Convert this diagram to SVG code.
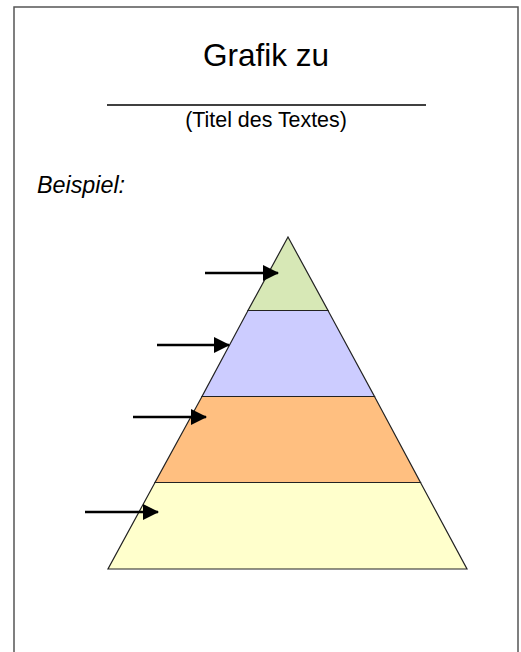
<svg xmlns="http://www.w3.org/2000/svg" width="521" height="652" viewBox="0 0 521 652">
<style>
.t{font-family:"Liberation Sans",Arial,sans-serif;fill:#000}
.lay{stroke:#222;stroke-width:1.2;stroke-linejoin:miter}
.arr{stroke:#000;stroke-width:2.6;fill:none}
</style>
<defs>
<marker id="ah" markerUnits="userSpaceOnUse" markerWidth="16" markerHeight="16" viewBox="0 0 16 16" refX="15" refY="8" orient="auto">
<path d="M0,0 L16,8 L0,16 Z" fill="#000"/>
</marker>
</defs>
<rect x="0" y="0" width="521" height="652" fill="#fff"/>
<rect id="frame" x="14" y="7" width="504" height="700" fill="none" stroke="#555" stroke-width="1.5"/>
<g id="header">
<text class="t" x="266" y="66" font-size="31.5" text-anchor="middle">Grafik zu</text>
<line x1="107" y1="105" x2="426" y2="105" stroke="#000" stroke-width="1.5"/>
<text class="t" x="266" y="127" font-size="21.4" text-anchor="middle">(Titel des Textes)</text>
<text class="t" x="37" y="193" font-size="23.3" font-style="italic">Beispiel:</text>
</g>
<g id="level1"><polygon class="lay" points="288,237 328,310.5 248,310.5" fill="#D7E8B6"/></g>
<g id="level2"><polygon class="lay" points="248,310.5 328,310.5 374.5,396.5 202,396.5" fill="#CCCCFF"/></g>
<g id="level3"><polygon class="lay" points="202,396.5 374.5,396.5 420.5,482.5 155,482.5" fill="#FFBF80"/></g>
<g id="level4"><polygon class="lay" points="155,482.5 420.5,482.5 467,569 108,569" fill="#FFFFCC"/></g>
<g id="connectors">
<line class="arr" x1="205" y1="273" x2="278" y2="273" marker-end="url(#ah)"/>
<line class="arr" x1="157" y1="345" x2="229" y2="345" marker-end="url(#ah)"/>
<line class="arr" x1="133" y1="417" x2="206" y2="417" marker-end="url(#ah)"/>
<line class="arr" x1="85" y1="512" x2="158" y2="512" marker-end="url(#ah)"/>
</g>
</svg>
